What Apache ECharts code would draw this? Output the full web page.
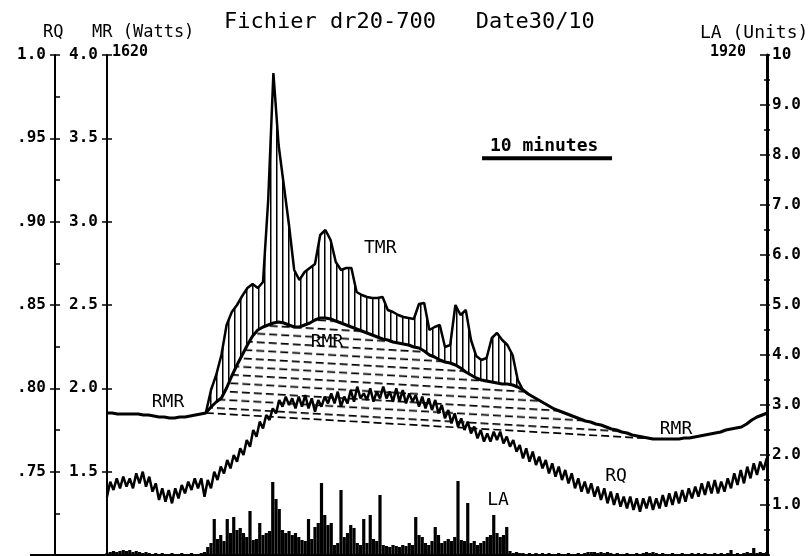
<!DOCTYPE html>
<html>
<head>
<meta charset="utf-8">
<script src="https://cdn.jsdelivr.net/npm/echarts@6/dist/echarts.min.js"></script>
<style>
  html, body { margin: 0; padding: 0; background: #fff; }
  #chart { width: 810px; height: 556px; }
</style>
</head>
<body>
<div id="chart"></div>
<script>
// MR traces sampled every 0.4 min (x axis in minutes)
const mrStep = 0.4;
const rmr = [
  1.852, 1.852, 1.846, 1.846, 1.846, 1.846, 1.846, 1.840, 1.840, 1.834,
  1.828, 1.828, 1.822, 1.822, 1.828, 1.828, 1.834, 1.840, 1.846, 1.852,
  1.888, 1.918, 1.942, 2.002, 2.074, 2.140, 2.200, 2.260, 2.314, 2.350,
  2.368, 2.380, 2.392, 2.398, 2.392, 2.380, 2.368, 2.368, 2.380, 2.392,
  2.410, 2.422, 2.422, 2.416, 2.404, 2.392, 2.380, 2.368, 2.356, 2.344,
  2.332, 2.320, 2.308, 2.296, 2.290, 2.278, 2.272, 2.266, 2.260, 2.248,
  2.242, 2.224, 2.200, 2.188, 2.170, 2.158, 2.152, 2.140, 2.122, 2.098,
  2.080, 2.062, 2.050, 2.044, 2.038, 2.032, 2.026, 2.026, 2.020, 2.008,
  1.990, 1.966, 1.948, 1.930, 1.912, 1.894, 1.876, 1.864, 1.852, 1.840,
  1.828, 1.816, 1.804, 1.798, 1.786, 1.780, 1.768, 1.756, 1.750, 1.738,
  1.732, 1.720, 1.714, 1.708, 1.702, 1.696, 1.696, 1.696, 1.696, 1.696,
  1.696, 1.702, 1.702, 1.708, 1.714, 1.720, 1.726, 1.732, 1.738, 1.750,
  1.756, 1.762, 1.768, 1.786, 1.810, 1.828, 1.840, 1.852
];
// TMR only differs from RMR during the exercise bout, starts at sample 19
const tmrFrom = 19;
const tmr = [
  1.852, 1.990, 2.080, 2.200, 2.380, 2.458, 2.500, 2.554, 2.602, 2.626,
  2.602, 2.638, 3.130, 3.892, 3.460, 3.220, 2.980, 2.710, 2.650, 2.698,
  2.722, 2.746, 2.920, 2.950, 2.890, 2.758, 2.710, 2.722, 2.722, 2.578,
  2.560, 2.548, 2.542, 2.542, 2.548, 2.470, 2.458, 2.440, 2.428, 2.422,
  2.416, 2.506, 2.512, 2.350, 2.368, 2.380, 2.248, 2.260, 2.500, 2.440,
  2.470, 2.290, 2.194, 2.170, 2.182, 2.302, 2.332, 2.290, 2.260, 2.200,
  2.050, 1.990
];
// straight resting baseline under the bout [min, MR]
const baseLine = [[7.6, 1.852], [42.4, 1.696]];

// RQ and LA sampled every 0.25 min
const fineStep = 0.25;
const rq = [
  0.735, 0.744, 0.739, 0.746, 0.740, 0.747, 0.741, 0.746, 0.740, 0.749,
  0.743, 0.750, 0.741, 0.747, 0.738, 0.743, 0.733, 0.740, 0.732, 0.739,
  0.731, 0.740, 0.734, 0.742, 0.737, 0.744, 0.739, 0.746, 0.740, 0.746,
  0.735, 0.745, 0.740, 0.750, 0.745, 0.753, 0.749, 0.757, 0.752, 0.760,
  0.756, 0.764, 0.760, 0.769, 0.765, 0.775, 0.771, 0.780, 0.776, 0.784,
  0.781, 0.788, 0.785, 0.793, 0.789, 0.795, 0.790, 0.794, 0.788, 0.795,
  0.789, 0.796, 0.788, 0.794, 0.786, 0.793, 0.789, 0.795, 0.791, 0.797,
  0.791, 0.798, 0.789, 0.795, 0.791, 0.799, 0.792, 0.801, 0.794, 0.797,
  0.793, 0.800, 0.792, 0.798, 0.794, 0.801, 0.794, 0.798, 0.792, 0.800,
  0.792, 0.799, 0.791, 0.797, 0.792, 0.796, 0.789, 0.795, 0.788, 0.794,
  0.787, 0.793, 0.785, 0.790, 0.782, 0.787, 0.779, 0.785, 0.777, 0.782,
  0.775, 0.780, 0.773, 0.777, 0.770, 0.775, 0.768, 0.773, 0.768, 0.774,
  0.769, 0.774, 0.767, 0.771, 0.765, 0.769, 0.762, 0.766, 0.758, 0.764,
  0.756, 0.762, 0.754, 0.759, 0.752, 0.757, 0.749, 0.755, 0.747, 0.753,
  0.745, 0.751, 0.743, 0.749, 0.740, 0.746, 0.738, 0.744, 0.737, 0.743,
  0.735, 0.741, 0.733, 0.740, 0.731, 0.738, 0.730, 0.737, 0.729, 0.735,
  0.728, 0.735, 0.727, 0.734, 0.726, 0.734, 0.728, 0.735, 0.727, 0.734,
  0.728, 0.736, 0.729, 0.737, 0.730, 0.738, 0.731, 0.739, 0.732, 0.740,
  0.734, 0.741, 0.735, 0.743, 0.736, 0.744, 0.737, 0.745, 0.737, 0.744,
  0.738, 0.746, 0.740, 0.749, 0.742, 0.751, 0.743, 0.753, 0.746, 0.755,
  0.748, 0.756, 0.751, 0.758
];
const la = [
  0.04, 0.06, 0.08, 0.06, 0.08, 0.10, 0.08, 0.10, 0.06, 0.08,
  0.06, 0.04, 0.06, 0.04, 0.02, 0.04, 0.02, 0.04, 0.02, 0.02,
  0.04, 0.02, 0.02, 0.04, 0.02, 0.02, 0.04, 0.02, 0.02, 0.04,
  0.06, 0.16, 0.24, 0.72, 0.32, 0.40, 0.28, 0.72, 0.44, 0.76,
  0.50, 0.54, 0.44, 0.36, 0.88, 0.30, 0.32, 0.64, 0.40, 0.44,
  0.48, 1.46, 1.12, 0.92, 0.50, 0.44, 0.48, 0.40, 0.44, 0.36,
  0.30, 0.28, 0.72, 0.32, 0.56, 0.64, 1.44, 0.80, 0.60, 0.64,
  0.20, 0.24, 1.30, 0.36, 0.44, 0.60, 0.54, 0.24, 0.20, 0.72,
  0.24, 0.80, 0.32, 0.28, 1.20, 0.20, 0.18, 0.16, 0.20, 0.18,
  0.16, 0.20, 0.18, 0.24, 0.20, 0.76, 0.40, 0.36, 0.24, 0.20,
  0.28, 0.56, 0.40, 0.24, 0.28, 0.32, 0.28, 0.36, 1.48, 0.30,
  0.28, 1.04, 0.24, 0.28, 0.20, 0.24, 0.28, 0.36, 0.40, 0.80,
  0.44, 0.36, 0.40, 0.56, 0.08, 0.04, 0.06, 0.04, 0.04, 0.02,
  0.04, 0.02, 0.04, 0.02, 0.04, 0.02, 0.04, 0.02, 0.02, 0.04,
  0.02, 0.02, 0.04, 0.02, 0.02, 0.04, 0.02, 0.04, 0.06, 0.06,
  0.06, 0.04, 0.06, 0.04, 0.06, 0.04, 0.02, 0.04, 0.02, 0.02,
  0.04, 0.02, 0.02, 0.04, 0.02, 0.04, 0.06, 0.04, 0.06, 0.04,
  0.02, 0.04, 0.02, 0.02, 0.04, 0.02, 0.02, 0.04, 0.02, 0.02,
  0.04, 0.02, 0.04, 0.02, 0.04, 0.02, 0.02, 0.04, 0.02, 0.04,
  0.02, 0.04, 0.10, 0.02, 0.04, 0.02, 0.04, 0.06, 0.04, 0.14,
  0.04, 0.06, 0.04, 0.06
];

// axes
const xMax = 50.77;
const mrRange = [1, 4];
const rqRange = [0.70, 1.0];
const laRange = [0, 10];
// 10 minute scale bar: [from, to] in minutes, at this MR level
const scaleBar = [28.85, 38.85];
const scaleBarLevel = 3.38;

const FONT = '"DejaVu Sans Mono", monospace';

function makePattern(w, h, draw) {
  const c = document.createElement('canvas');
  c.width = w;
  c.height = h;
  const ctx = c.getContext('2d');
  ctx.fillStyle = '#fff';
  ctx.fillRect(0, 0, w, h);
  ctx.fillStyle = '#000';
  draw(ctx);
  return c;
}
// vertical hatching between TMR and RMR
const hatch = makePattern(6, 6, ctx => ctx.fillRect(0, 0, 1.5, 6));
// dashed lines between RMR and the baseline
const dashes = makePattern(12, 17, ctx => {
  ctx.fillRect(0, 3, 8, 1.7);
  ctx.fillRect(0, 11.5, 8, 1.7);
});

const rmrData = rmr.map((v, i) => [i * mrStep, v]);
const tmrData = tmr.map((v, k) => [(tmrFrom + k) * mrStep, v]);
const rmrUnderTmr = rmrData.slice(tmrFrom, tmrFrom + tmr.length);
const rmrOverBase = rmrData.filter(p => p[0] >= baseLine[0][0] - 1e-6 && p[0] <= baseLine[1][0] + 1e-6);
const rqData = rq.map((v, i) => [i * fineStep, v]);
const laData = la.map((v, i) => [i * fineStep, v]);

// filled band between an upper and a lower trace, drawn through the axes
function band(upper, lower, fill, z) {
  const pts = upper.concat(lower.slice().reverse());
  return {
    type: 'custom', coordinateSystem: 'cartesian2d', xAxisIndex: 0, yAxisIndex: 0,
    z: z, silent: true, clip: true,
    data: [upper[0]],
    renderItem: (params, api) => ({
      type: 'polygon',
      shape: { points: pts.map(p => api.coord(p)) },
      style: { fill: fill, stroke: null }
    })
  };
}

const tickStyle = { color: '#000', width: 1.5 };
function yAxisPair(base, labelOpt, inner) {
  return [
    Object.assign({
      type: 'value',
      axisLine: { show: true, lineStyle: { color: '#000', width: 2 } },
      axisTick: { show: true, length: 5, lineStyle: tickStyle },
      splitLine: { show: false },
      axisLabel: Object.assign({
        color: '#000', fontFamily: FONT, fontSize: 16, fontWeight: 'bold',
        showMinLabel: false
      }, labelOpt)
    }, base),
    Object.assign({
      type: 'value',
      axisLine: { show: false },
      axisLabel: { show: false },
      splitLine: { show: false },
      axisTick: { show: true, inside: true, length: inner.len, lineStyle: tickStyle },
      minorTick: inner.minor ? { show: true, splitNumber: 2, length: inner.minor, lineStyle: tickStyle } : { show: false }
    }, base)
  ];
}

const mrBase = { position: 'left', offset: 0, min: mrRange[0], max: mrRange[1], interval: 0.5 };
const rqBase = { position: 'left', offset: 52, min: rqRange[0], max: rqRange[1], interval: 0.05 };
const laBase = { position: 'right', offset: 0, min: laRange[0], max: laRange[1], interval: 1 };

const yAxes = [
  ...yAxisPair(mrBase, { margin: 9, formatter: v => v.toFixed(1) }, { len: 5 }),
  ...yAxisPair(rqBase, {
    margin: 9,
    formatter: v => (Math.abs(v - 1) < 1e-6 ? '1.0' : '.' + Math.round(v * 100))
  }, { len: 5, minor: 5 }),
  ...yAxisPair(laBase, {
    margin: 5,
    formatter: v => (v === 10 ? '10' : v.toFixed(1))
  }, { len: 7, minor: 3 })
];
yAxes[4].axisLine.lineStyle.width = 3;
yAxes[4].axisTick.length = 3;
yAxes[4].minorTick = { show: true, splitNumber: 2, length: 3, lineStyle: tickStyle };

function txt(text, x, y, size, weight, align) {
  return {
    type: 'text', x: x, y: y, z: 20,
    style: {
      text: text, fill: '#000',
      font: (weight || 'normal') + ' ' + size + 'px ' + FONT,
      textAlign: align || 'left', textVerticalAlign: 'middle'
    }
  };
}

const chart = echarts.init(document.getElementById('chart'), null, { renderer: 'canvas' });
chart.setOption({
  backgroundColor: '#fff',
  animation: false,
  grid: { left: 107, right: 43, top: 55, bottom: 1, containLabel: false },
  xAxis: {
    type: 'value', min: 0, max: xMax, z: 10,
    axisLine: { show: true, onZero: false, lineStyle: { color: '#000', width: 2 } },
    axisTick: { show: false },
    axisLabel: { show: false },
    splitLine: { show: false }
  },
  yAxis: yAxes,
  graphic: [
    txt('RQ', 43, 33, 17),
    txt('MR (Watts)', 92, 33, 17),
    txt('Fichier dr20-700   Date30/10', 224, 22, 22),
    txt('LA (Units)', 700, 33, 18),
    txt('1620', 112, 52, 15, 'bold'),
    txt('1920', 746, 52, 15, 'bold', 'right'),
    txt('10 minutes', 490, 146, 18, 'bold'),
    txt('TMR', 364, 248, 18),
    txt('RMR', 327, 342, 18, null, 'center'),
    txt('RMR', 168, 402, 18, null, 'center'),
    txt('RMR', 676, 429, 18, null, 'center'),
    txt('RQ', 616, 476, 18, null, 'center'),
    txt('LA', 498, 500, 18, null, 'center'),
    { type: 'line', z: 20, shape: { x1: 30, y1: 555, x2: 107, y2: 555 }, style: { stroke: '#000', lineWidth: 2 } }
  ],
  series: [
    band(tmrData, rmrUnderTmr, { image: hatch, repeat: 'repeat' }, 2),
    band(rmrOverBase, baseLine, { image: dashes, repeat: 'repeat', rotation: 0.0575 }, 2),
    {
      name: 'TMR', type: 'line', yAxisIndex: 0, data: tmrData, symbol: 'none', z: 4,
      lineStyle: { color: '#000', width: 2.5 }
    },
    {
      name: 'baseline', type: 'line', yAxisIndex: 0, data: baseLine, symbol: 'none', z: 4,
      lineStyle: { color: '#000', width: 1.7, type: [8, 4] }
    },
    {
      name: 'RMR', type: 'line', yAxisIndex: 0, data: rmrData, symbol: 'none', z: 5,
      lineStyle: { color: '#000', width: 3 }
    },
    {
      name: 'RQ', type: 'line', yAxisIndex: 2, data: rqData, symbol: 'none', z: 6,
      lineStyle: { color: '#000', width: 2.5 }
    },
    {
      name: 'LA', type: 'bar', yAxisIndex: 4, data: laData, barWidth: 3.2, z: 6,
      itemStyle: { color: '#000' }
    },
    {
      name: 'scale', type: 'line', yAxisIndex: 0, symbol: 'none', z: 6,
      data: scaleBar.map(t => [t, scaleBarLevel]),
      lineStyle: { color: '#000', width: 4 }
    }
  ]
});
</script>
</body>
</html>
